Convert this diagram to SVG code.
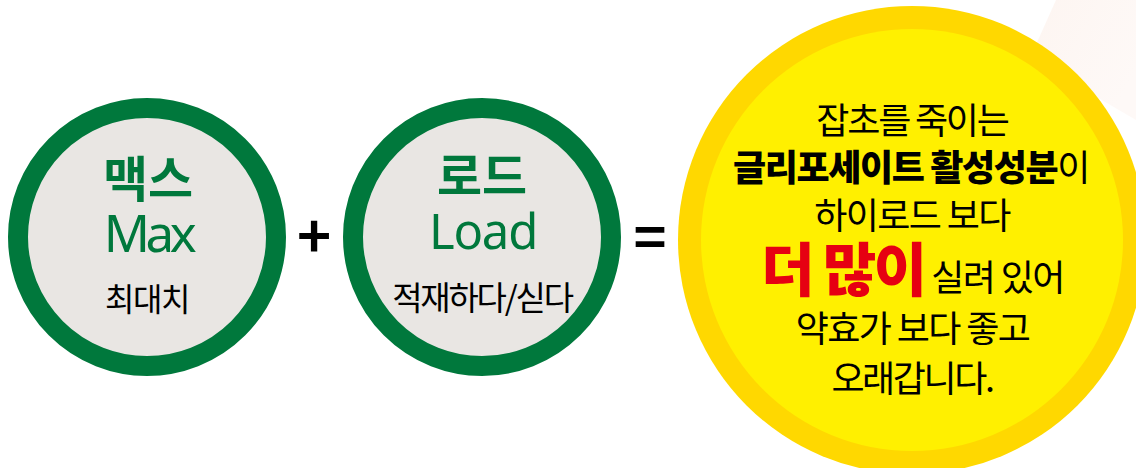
<svg xmlns="http://www.w3.org/2000/svg" width="1136" height="468" viewBox="0 0 1136 468">
<style>
text{font-family:"Noto Sans CJK KR","Noto Sans",sans-serif;text-anchor:middle;fill:#000}
.g{fill:#00783c}
.ring{fill:#e9e6e3;stroke:#00783c;stroke-width:20}
.t{font-size:36px;letter-spacing:-1.6px}
.b{font-weight:700}
.n{font-weight:900}
.r{font-size:58px;letter-spacing:-2.5px;fill:#e60012}
</style>
<defs><linearGradient id="bg" x1="0" y1="0" x2="1" y2="0.6"><stop offset="0" stop-color="#fdf5f1"/><stop offset="1" stop-color="#fef9f7"/></linearGradient></defs>
<rect width="1136" height="468" fill="#fff"/>
<polygon points="1056,0 1136,0 1136,120 1030,58" fill="url(#bg)"/>
<g id="max">
<circle class="ring" cx="147" cy="237" r="129"/>
<text class="g b" x="148" y="197" font-size="49">맥스</text>
<text class="g" x="148" y="252" font-size="51" style="font-family:'Noto Sans',sans-serif;letter-spacing:-4.5px">Max</text>
<text x="147" y="311" font-size="32" style="letter-spacing:-1.5px">최대치</text>
</g>
<g id="load">
<circle class="ring" cx="482" cy="237" r="129"/>
<text class="g b" x="482" y="194" font-size="49">로드</text>
<text class="g" x="483" y="249" font-size="49" style="font-family:'Noto Sans',sans-serif;letter-spacing:-1.2px">Load</text>
<text x="482" y="310" font-size="33" style="letter-spacing:-2.2px">적재하다/싣다</text>
</g>
<g id="plus"><text class="b" x="314" y="258" font-size="58">+</text></g>
<g id="equals"><text class="b" x="650" y="258" font-size="56">=</text></g>
<g id="result">
<circle cx="912" cy="240" r="234" fill="#ffd800"/>
<circle cx="912" cy="240" r="211" fill="#fff000"/>
<text class="t" x="912" y="134" style="letter-spacing:-2.2px">잡초를 죽이는</text>
<text class="t" x="911" y="181" style="letter-spacing:-1.4px"><tspan class="n">글리포세이트 활성성분</tspan>이</text>
<text class="t" x="912" y="229">하이로드 보다</text>
<text class="t" x="912.5" y="291"><tspan class="n r">더 많이</tspan> 실려 있어</text>
<text class="t" x="912.5" y="342">약효가 보다 좋고</text>
<text class="t" x="912" y="392" style="letter-spacing:-2.4px">오래갑니다.</text>
</g>
</svg>
